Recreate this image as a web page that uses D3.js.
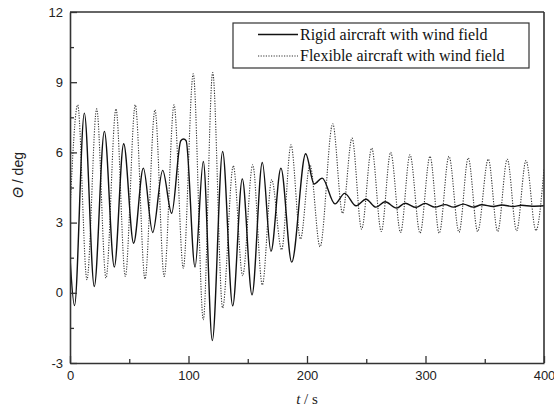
<!DOCTYPE html>
<html>
<head>
<meta charset="utf-8">
<script src="https://cdn.jsdelivr.net/npm/d3@7"></script>
<style>
  body { margin: 0; background: #fff; }
  .tick text { font-family: "Liberation Sans", Arial, sans-serif; font-size: 13px; fill: #222; }
</style>
</head>
<body>
<div id="chart"></div>
<script>
// rigid aircraft (solid) - extrema
const rigidT = [0, 3.8, 12.1, 20.5, 29, 37.4, 45.3, 53.7, 61.9, 69.8, 78.2, 85.8, 93.5, 95.8, 98, 105.5, 112.5, 120.1, 128.8, 137.3, 145.4, 153.6, 162.3, 169.6, 178, 187.1, 198.9, 206, 212.8, 223.6, 231.8, 241.4, 249.8, 258.2, 265.8, 275.7, 282.7, 292, 299.6, 308, 316.5, 323.5, 331.9, 340.3, 347.4, 357.2, 364.4, 374, 381, 390, 400];
const rigidV = [1.5, -0.55, 7.68, 0.27, 6.9, 1.1, 6.37, 2.12, 5.33, 2.58, 5.23, 3.4, 6.5, 6.57, 6.5, 1.1, 5.61, -2.04, 6.04, -0.56, 4.87, -0.09, 5.57, 1.77, 5.33, 1.31, 5.94, 4.65, 4.9, 3.8, 4.25, 3.72, 4.0, 3.66, 3.89, 3.62, 3.83, 3.65, 3.82, 3.66, 3.77, 3.66, 3.79, 3.66, 3.76, 3.69, 3.75, 3.69, 3.74, 3.7, 3.72];

// flexible aircraft (dotted)
const flexT = [0, 6.5, 14.3, 22.5, 30.4, 38.8, 46.7, 55.1, 63.3, 71.7, 79.5, 87.8, 95.6, 104, 112.5, 120.4, 128.8, 137.8, 145.7, 154.2, 162.3, 170.2, 178.6, 186.5, 194.5, 202.5, 211, 221.7, 230, 238, 246.1, 254.6, 262.7, 270.6, 279, 286.9, 295.4, 303.8, 311.6, 319.8, 328.3, 336.1, 344, 353, 360.9, 369, 376.9, 384.8, 393.2, 400];
const flexV = [3.5, 8.03, 0.56, 7.86, 0.63, 7.86, 0.7, 8.03, 0.59, 7.82, 0.7, 8.03, 1.05, 9.36, -1.15, 9.41, -0.65, 5.43, 0.73, 5.47, 0.34, 4.83, 1.84, 6.32, 2.3, 5.47, 1.97, 7.22, 3.4, 6.61, 2.72, 6.18, 2.62, 6.0, 2.58, 5.9, 2.55, 5.83, 2.55, 5.83, 2.59, 5.76, 2.62, 5.71, 2.62, 5.71, 2.65, 5.65, 2.66, 5.3];

const xTicks = [0, 100, 200, 300, 400];
const xMinor = [50, 150, 250, 350];
const yTicks = [-3, 0, 3, 6, 9, 12];
const yMinor = [-1.5, 1.5, 4.5, 7.5, 10.5];
const seriesNames = ["Rigid aircraft with wind field", "Flexible aircraft with wind field"];

const W = 554, H = 412;
const margin = { top: 12, right: 10, bottom: 49, left: 70 };
const width = W - margin.left - margin.right;
const height = H - margin.top - margin.bottom;

const svg = d3.select("#chart").append("svg")
    .attr("width", W)
    .attr("height", H);

const g = svg.append("g")
    .attr("transform", `translate(${margin.left},${margin.top})`);

const x = d3.scaleLinear().domain([0, 400]).range([0, width]);
const y = d3.scaleLinear().domain([-3, 12]).range([height, 0]);

g.append("defs").append("clipPath").attr("id", "clip")
    .append("rect").attr("width", width).attr("height", height);

const line = d3.line()
    .x(d => x(d[0]))
    .y(d => y(d[1]))
    .curve(d3.curveMonotoneX);

const rigid = rigidT.map((t, i) => [t, rigidV[i]]);
const flex = flexT.map((t, i) => [t, flexV[i]]);

g.append("path")
    .datum(flex)
    .attr("clip-path", "url(#clip)")
    .attr("fill", "none")
    .attr("stroke", "#333")
    .attr("stroke-width", 1.1)
    .attr("stroke-dasharray", "1.2,1.4")
    .attr("d", line);

g.append("path")
    .datum(rigid)
    .attr("clip-path", "url(#clip)")
    .attr("fill", "none")
    .attr("stroke", "#111")
    .attr("stroke-width", 1.4)
    .attr("d", line);

// minor ticks
g.append("g")
    .attr("transform", `translate(0,${height})`)
    .call(d3.axisBottom(x).tickValues(xMinor).tickSizeInner(-4).tickSizeOuter(0).tickFormat(""))
    .call(a => a.select(".domain").remove())
    .selectAll("line").attr("stroke", "#333").attr("stroke-width", 1.3);

g.append("g")
    .call(d3.axisLeft(y).tickValues(yMinor).tickSizeInner(-4).tickSizeOuter(0).tickFormat(""))
    .call(a => a.select(".domain").remove())
    .selectAll("line").attr("stroke", "#333").attr("stroke-width", 1.3);

// major axes
const xAxis = g.append("g")
    .attr("transform", `translate(0,${height})`)
    .call(d3.axisBottom(x).tickValues(xTicks).tickSizeInner(-7).tickSizeOuter(0).tickPadding(8).tickFormat(d => String(d)));

const yAxis = g.append("g")
    .call(d3.axisLeft(y).tickValues(yTicks).tickSizeInner(-7).tickSizeOuter(0).tickPadding(7).tickFormat(d => String(d)));

[xAxis, yAxis].forEach(a => {
    a.selectAll("line").attr("stroke", "#333").attr("stroke-width", 1.3);
    a.select(".domain").attr("stroke", "#333").attr("stroke-width", 1.6);
});

// frame top and right
g.append("line").attr("x1", 0).attr("x2", width).attr("y1", 0).attr("y2", 0)
    .attr("stroke", "#333").attr("stroke-width", 1.6);
g.append("line").attr("x1", width).attr("x2", width).attr("y1", 0).attr("y2", height)
    .attr("stroke", "#333").attr("stroke-width", 1.6);

// axis labels
const xl = svg.append("text")
    .attr("x", margin.left + width / 2)
    .attr("y", 404)
    .attr("text-anchor", "middle")
    .style("font-family", "'Liberation Serif', 'Times New Roman', serif")
    .style("font-size", "15px")
    .attr("fill", "#222");
xl.append("tspan").style("font-style", "italic").text("t");
xl.append("tspan").text(" / s");

const yl = svg.append("text")
    .attr("transform", "translate(23,175) rotate(-90)")
    .attr("text-anchor", "middle")
    .style("font-family", "'Liberation Sans', Arial, sans-serif")
    .style("font-size", "14px")
    .attr("fill", "#222");
yl.append("tspan").style("font-style", "italic").text("Θ");
yl.append("tspan").text(" / deg");

// legend
const legend = svg.append("g");
legend.append("rect")
    .attr("x", 233).attr("y", 23)
    .attr("width", 296).attr("height", 45)
    .attr("fill", "#fff")
    .attr("stroke", "#333")
    .attr("stroke-width", 1.2);

const legRows = [
    { name: seriesNames[0], y: 34.5, dash: null, color: "#111", w: 1.4 },
    { name: seriesNames[1], y: 56, dash: "1.2,1.4", color: "#333", w: 1.1 }
];
legRows.forEach(r => {
    legend.append("line")
        .attr("x1", 258).attr("x2", 298)
        .attr("y1", r.y).attr("y2", r.y)
        .attr("stroke", r.color)
        .attr("stroke-width", r.w)
        .attr("stroke-dasharray", r.dash);
    legend.append("text")
        .attr("x", 300).attr("y", r.y + 5)
        .style("font-family", "'Liberation Serif', 'Times New Roman', serif")
        .style("font-size", "16px")
        .attr("fill", "#111")
        .text(r.name);
});
</script>
</body>
</html>
